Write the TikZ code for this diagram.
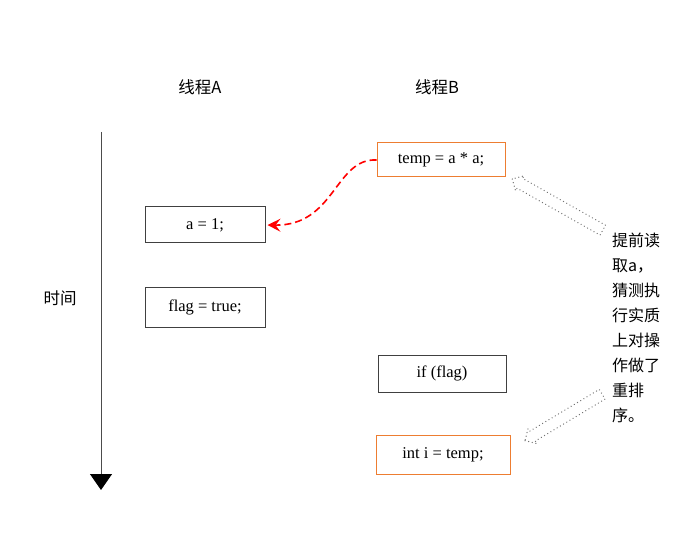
\documentclass[tikz,border=0pt]{standalone}
\usepackage{fontspec}
\setmainfont{Liberation Serif}
\newfontfamily\cjk{Noto Sans CJK SC}
\usetikzlibrary{arrows.meta,shapes.arrows}
\begin{document}
\begin{tikzpicture}[x=1pt,y=-1pt,
  codebox/.style={draw=black!75, line width=1pt, minimum width=120pt, minimum height=36pt, inner sep=0pt, font=\fontsize{16.5}{18}\selectfont},
  orangebox/.style={codebox, draw={rgb,255:red,237;green,125;blue,49}},
  lbl/.style={font=\cjk\fontsize{16.5}{18}\selectfont},
  hint/.style={single arrow, draw=black!55, line cap=round, dash pattern=on 0.1pt off 3.6pt, line width=1.3pt, minimum width=16pt, single arrow head extend=3pt, single arrow head indent=0pt, inner xsep=0pt, inner ysep=5pt, anchor=center}
]
\useasboundingbox (0,0) rectangle (684,534);
% titles
\node[lbl] (ta) at (200,87) {线程A};
\node[lbl] (tb) at (437,87) {线程B};
% time axis
\coordinate (t0) at (101,132);
\coordinate (t1) at (101,490);
\draw[black!70, line width=1pt, -{Triangle[width=22pt,length=16pt,fill=black,color=black]}] (t0) -- (t1);
\node[lbl] (time) at (60,298) {时间};
% thread A
\node[codebox, minimum width=120pt, minimum height=36pt] (a) at (205,225) {a = 1;};
\node[codebox, minimum width=120pt, minimum height=40pt] (flag) at (205,307) {flag = true;};
% thread B
\node[orangebox, minimum width=128pt, minimum height=34pt] (temp) at (441,160) {temp = a * a;};
\node[codebox, minimum width=128pt, minimum height=37pt] (if) at (442,373.5) {if (flag)};
\node[orangebox, minimum width=134pt, minimum height=39pt] (int) at (443,454.5) {int i = temp;};
% red dashed curve
\draw[red, line width=1.6pt, dash pattern=on 7pt off 4pt, -{Stealth[length=13pt,width=13pt,inset=5pt]}]
  (temp.west) .. controls (335,158) and (335,226) .. ([xshift=2pt]a.east);
% hint arrows
\node[hint, minimum height=104pt, rotate=150.5] (h1) at (560,206) {};
\node[hint, minimum height=90pt, rotate=211] (h2) at (566,416) {};
% side note
\node[font=\cjk\fontsize{16}{25}\selectfont, align=left, anchor=north west, inner sep=0pt] (note) at (612,233)
 {提前读\\取a，\\猜测执\\行实质\\上对操\\作做了\\重排\\序。};
\end{tikzpicture}
\end{document}
